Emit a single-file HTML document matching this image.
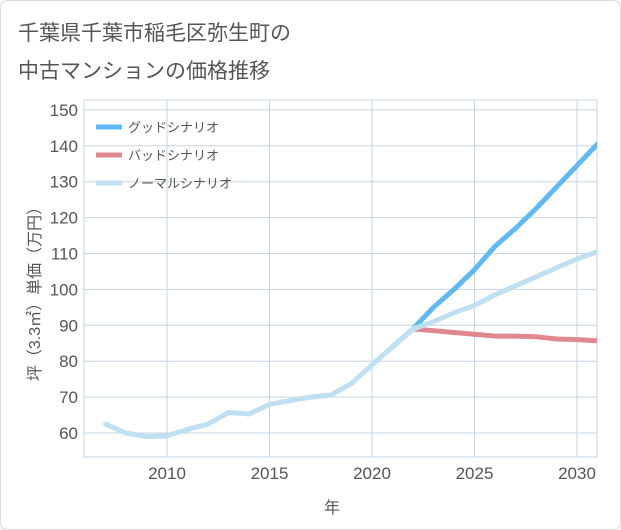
<!DOCTYPE html>
<html><head><meta charset="utf-8"><style>
body{margin:0;background:#f5f5f5;font-family:"Liberation Sans","Noto Sans CJK JP",sans-serif;}
#card{position:absolute;left:0;top:0;width:619px;height:528px;background:#fff;border:1px solid #ddd;border-radius:8px;}
</style></head><body>
<div id="card">
<svg id="chart" width="621" height="530" style="position:absolute;left:-1px;top:-1px">
<text x="18" y="40" font-size="21" fill="#555">千葉県千葉市稲毛区弥生町の</text>
<text x="18" y="78" font-size="21" fill="#555">中古マンションの価格推移</text>
<g id="grid"></g><g id="series"></g><g id="legend"></g>
</svg></div>
<script>
const years=[2007,2008,2009,2010,2011,2012,2013,2014,2015,2016,2017,2018,2019,2020,2021,2022,2023,2024,2025,2026,2027,2028,2029,2030,2031];
const normal=[62.5,60,59,59.2,61,62.5,65.7,65.3,68,69,70,70.6,73.8,79,84,89,91,93.5,95.5,98.5,101,103.5,106,108.5,110.5];
const goodYears=[2021,2022,2023,2024,2025,2026,2027,2028,2029,2030,2031];
const good=[84,89,95,100,105.5,112,117,122.5,128.5,134.5,140.5];
const bad=[84,89,88.5,88,87.5,87,87,86.8,86.2,86,85.7];
const yTicks=[60,70,80,90,100,110,120,130,140,150];
const xTicks=[2010,2015,2020,2025,2030];
const L=84,R=597,T=100,B=457;
const x=v=>167+(v-2010)*20.5;
const y=v=>433-(v-60)*35.9/10;
const NS="http://www.w3.org/2000/svg";
function mk(tag,attrs,parent,text){const e=document.createElementNS(NS,tag);for(const k in attrs)e.setAttribute(k,attrs[k]);if(text!==undefined)e.textContent=text;parent.appendChild(e);return e;}
const g=document.getElementById('grid');
const frame=mk('rect',{x:L,y:T,width:R-L,height:B-T,fill:'none',stroke:'#c5d5e3'},g);


yTicks.forEach(v=>{
 const l=mk('line',{x1:L,x2:R,y1:y(v),y2:y(v),stroke:'#c5d5e3'},g);
 
 
 const t=mk('text',{x:L-6,y:y(v)+6,'text-anchor':'end','font-size':17,fill:'#555'},g,v);
 
 
});
xTicks.forEach(v=>{
 const l=mk('line',{x1:x(v),x2:x(v),y1:T,y2:B,stroke:'#c5d5e3'},g);
 
 
 const t=mk('text',{x:x(v),y:B+22,'text-anchor':'middle','font-size':17,fill:'#555'},g,v);
 
 
});
for(let i=2006;i<=2031;i++){if(i%5)continue;}
[2007,2008,2009,2011,2012,2013,2014,2016,2017,2018,2019,2021,2022,2023,2024,2026,2027,2028,2029,2031].forEach(v=>{});
const xt=mk('text',{x:332,y:513,'text-anchor':'middle','font-size':16,fill:'#555'},g,'年');


const yt=mk('text',{x:0,y:0,'text-anchor':'middle','font-size':16,fill:'#555',transform:'translate(40,290) rotate(-90)'},g,'坪（3.3㎡）単価（万円）');


const s=document.getElementById('series');
const clip=mk('clipPath',{id:'c'},s);mk('rect',{x:L,y:T,width:R-L,height:B-T},clip);
function line(xs,vs,col,name){
 const p=mk('polyline',{points:xs.map((a,i)=>x(a)+','+y(vs[i])).join(' '),fill:'none',stroke:col,'stroke-width':5,'stroke-linejoin':'round','stroke-linecap':'round','clip-path':'url(#c)'},s);
 
 
}
line(goodYears,bad,'#e0888f','bad-scenario-line');
line(goodYears,good,'#62b8f0','good-scenario-line');
line(years,normal,'#bfe0f0','normal-scenario-line');
const lg=document.getElementById('legend');
[['グッドシナリオ','#62b8f0'],['バッドシナリオ','#e0888f'],['ノーマルシナリオ','#bfe0f0']].forEach((d,i)=>{
 const yy=127+i*28;
 const l=mk('line',{x1:96,x2:122,y1:yy,y2:yy,stroke:d[1],'stroke-width':5},lg);
 
 
 const t=mk('text',{x:128,y:yy+5,'font-size':13,fill:'#555'},lg,d[0]);
 
 
});
</script></body></html>
